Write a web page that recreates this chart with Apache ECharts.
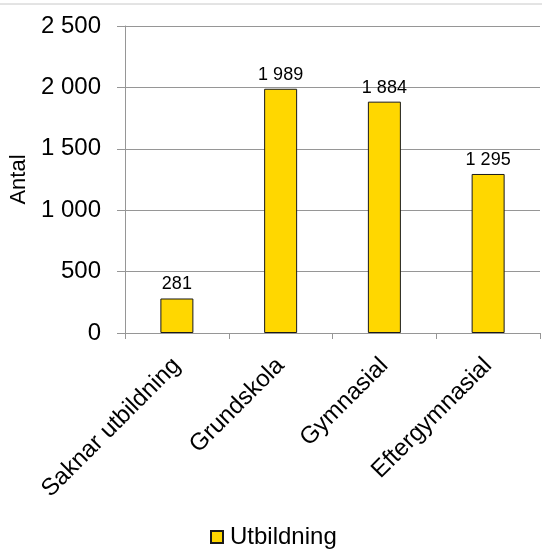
<!DOCTYPE html>
<html>
<head>
<meta charset="utf-8">
<script src="https://cdn.jsdelivr.net/npm/echarts@6/dist/echarts.min.js"></script>
<style>
  html, body { margin: 0; padding: 0; background: #fff; }
  #chart { width: 542px; height: 549px; }
</style>
</head>
<body>
<div id="chart"></div>
<script>
// data
const categories = ['Saknar utbildning', 'Grundskola', 'Gymnasial', 'Eftergymnasial']
const values = [281, 1989, 1884, 1295]
const seriesName = 'Utbildning'
const yMax = 2500
const yStep = 500

const FONT = '"Liberation Sans", Arial, sans-serif'

// thousands with a space, like "1 989"
const fmt = (v) => String(v).replace(/\B(?=(\d{3})+(?!\d))/g, ' ')

const myChart = echarts.init(document.getElementById('chart'))

const myOption = {
  backgroundColor: '#fff',
  animation: false,
  textStyle: { fontFamily: FONT },

  // thin grey rule at the very top
  graphic: [{
    type: 'line',
    shape: { x1: 0, y1: 4, x2: 542, y2: 4 },
    style: { stroke: '#c8c8c8', lineWidth: 1 }
  }],

  legend: {
    data: [seriesName],
    icon: 'rect',
    left: 205,
    top: 520,
    itemWidth: 12,
    itemHeight: 12,
    textStyle: { color: '#000', fontSize: 24, fontFamily: FONT, padding: [0, 0, 0, 2] }
  },

  grid: {
    left: 125,
    right: 2,
    top: 26,
    bottom: 216
  },

  xAxis: {
    type: 'category',
    data: categories,
    axisLine: { lineStyle: { color: '#969696' } },
    axisTick: { show: true, length: 6, lineStyle: { color: '#969696' } },
    axisLabel: {
      rotate: 45,
      margin: 29,
      interval: 0,
      color: '#000',
      fontSize: 24,
      fontFamily: FONT
    }
  },

  yAxis: {
    type: 'value',
    min: 0,
    max: yMax,
    interval: yStep,
    name: 'Antal',
    nameLocation: 'middle',
    nameGap: 94,
    nameTextStyle: { color: '#000', fontSize: 22, fontFamily: FONT },
    axisLine: { show: true, lineStyle: { color: '#969696' } },
    axisTick: { show: true, length: 8, lineStyle: { color: '#969696' } },
    axisLabel: {
      margin: 24,
      color: '#000',
      fontSize: 24,
      fontFamily: FONT,
      formatter: fmt
    },
    splitLine: { lineStyle: { color: '#969696' } }
  },

  series: [{
    name: seriesName,
    type: 'bar',
    data: values,
    barWidth: 33,
    itemStyle: {
      color: '#FFD700',
      borderColor: '#1a1a1a',
      borderWidth: 1
    },
    label: {
      show: true,
      position: 'top',
      distance: 5,
      color: '#000',
      fontSize: 18,
      fontFamily: FONT,
      formatter: (p) => fmt(p.value)
    }
  }]
}

myChart.setOption(myOption)
</script>
</body>
</html>
